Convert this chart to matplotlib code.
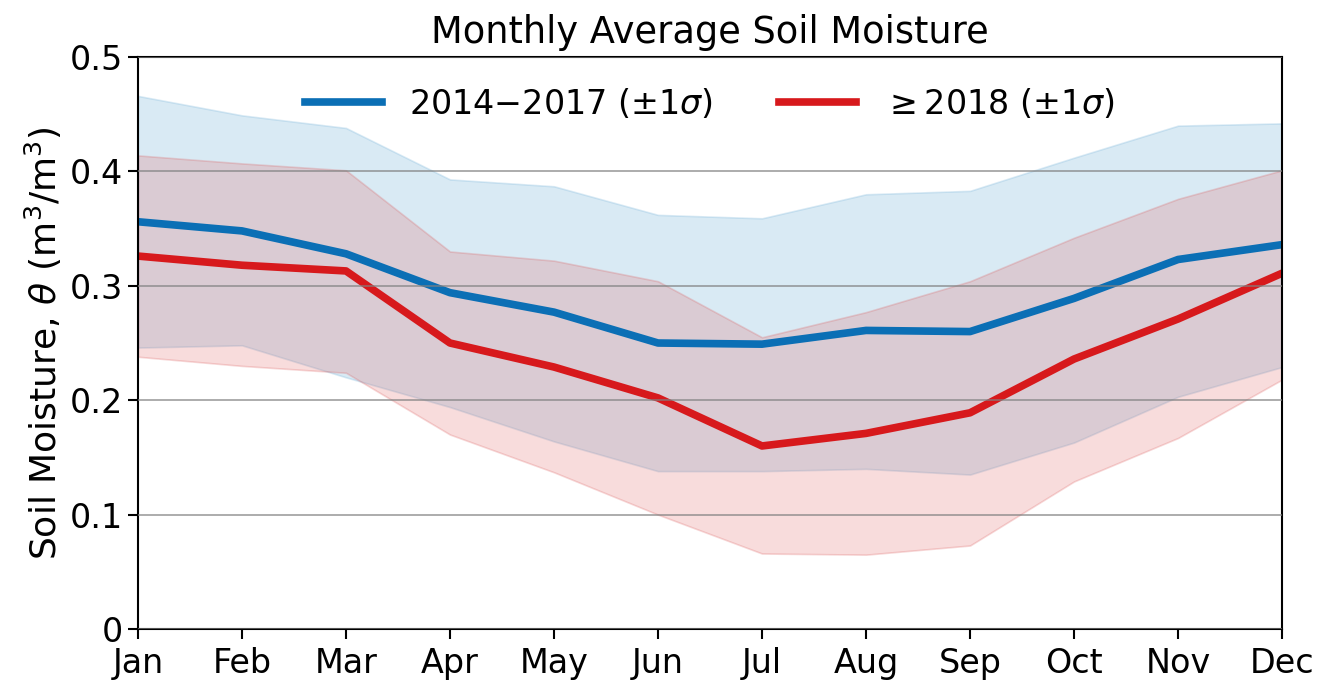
import matplotlib
matplotlib.use("Agg")
import matplotlib.pyplot as plt

months = ["Jan", "Feb", "Mar", "Apr", "May", "Jun", "Jul", "Aug", "Sep", "Oct", "Nov", "Dec"]

# 2014-2017 mean and +/- 1 sigma bounds
early_mean = [0.356, 0.348, 0.328, 0.294, 0.277, 0.250, 0.249, 0.261, 0.260, 0.289, 0.323, 0.336]
early_upper = [0.466, 0.449, 0.438, 0.393, 0.387, 0.362, 0.359, 0.380, 0.383, 0.412, 0.440, 0.442]
early_lower = [0.246, 0.248, 0.220, 0.194, 0.164, 0.138, 0.138, 0.140, 0.135, 0.163, 0.203, 0.229]

# >= 2018 mean and +/- 1 sigma bounds
late_mean = [0.326, 0.318, 0.313, 0.250, 0.229, 0.202, 0.160, 0.171, 0.189, 0.236, 0.271, 0.311]
late_upper = [0.414, 0.407, 0.401, 0.330, 0.322, 0.304, 0.255, 0.277, 0.304, 0.342, 0.376, 0.401]
late_lower = [0.238, 0.230, 0.224, 0.170, 0.137, 0.100, 0.066, 0.065, 0.073, 0.129, 0.167, 0.218]

blue = "#0b6fb5"
red = "#d7191c"

fig = plt.figure(figsize=(13.19, 6.82), dpi=100)
fig.subplots_adjust(left=0.1046, right=0.972, top=0.9164, bottom=0.0777)
ax = fig.add_subplot(111)

x = list(range(len(months)))

ax.fill_between(x, early_lower, early_upper, color="#6baed6", alpha=0.25, linewidth=1.2,
                edgecolor=(0.42, 0.68, 0.84, 0.4))
ax.fill_between(x, late_lower, late_upper, color="#e06060", alpha=0.22, linewidth=1.2,
                edgecolor=(0.85, 0.3, 0.3, 0.35))
ax.plot(x, early_mean, color=blue, linewidth=5.5, label="2014$-$2017 ($\\pm1\\sigma$)")
ax.plot(x, late_mean, color=red, linewidth=5.5, label="$\\geq$2018 ($\\pm1\\sigma$)")

ax.yaxis.grid(True, color="#808080", linewidth=1.3, alpha=0.7)
ax.set_axisbelow(False)
ax.set_xlim(0, 11)
ax.set_ylim(0, 0.5)
ax.set_xticks(x)
ax.set_xticklabels(months)
ax.set_yticks([0, 0.1, 0.2, 0.3, 0.4, 0.5])
ax.set_yticklabels(["0", "0.1", "0.2", "0.3", "0.4", "0.5"])
ax.tick_params(labelsize=24, width=1.5, length=7)
ax.tick_params(axis="x", pad=6)
for s in ax.spines.values():
    s.set_linewidth(1.5)

ax.set_ylabel("Soil Moisture, $\\theta$ (m$^3$/m$^3$)", fontsize=26)
ax.set_title("Monthly Average Soil Moisture", fontsize=26.5, pad=10)

ax.legend(loc="upper center", ncol=2, frameon=False, fontsize=24, handlelength=2.3,
          columnspacing=2.0, bbox_to_anchor=(0.5, 1.0))

fig.savefig("out.png", dpi=100)
